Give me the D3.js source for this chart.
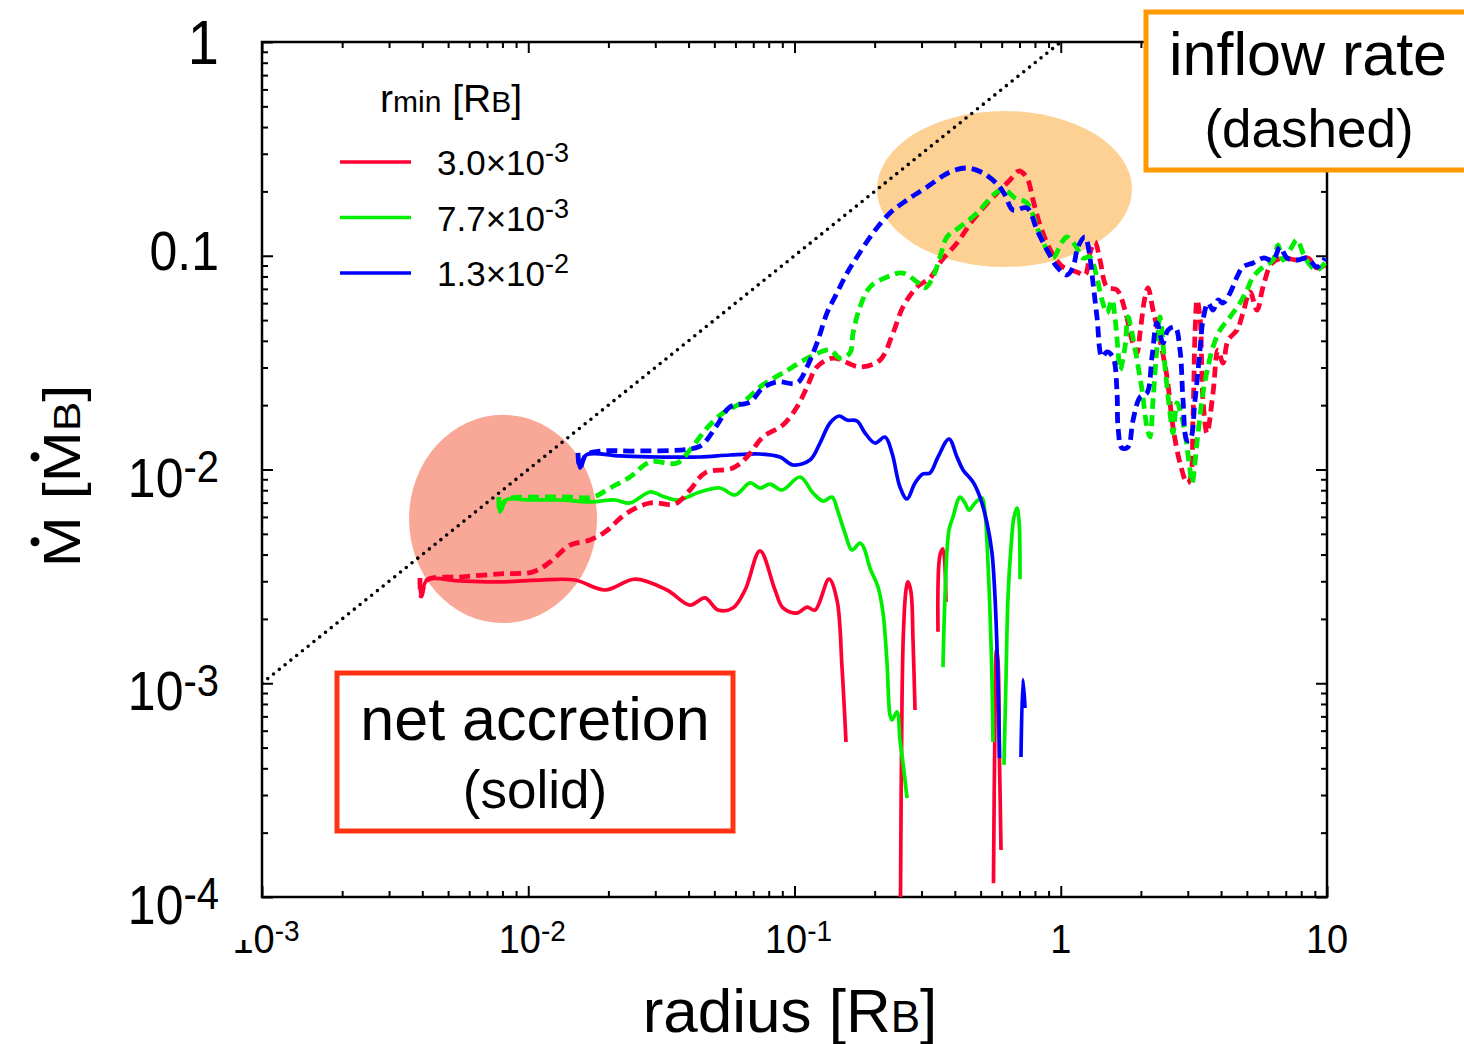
<!DOCTYPE html>
<html>
<head>
<meta charset="utf-8">
<script src="https://cdn.jsdelivr.net/npm/d3@7"></script>
<style>
  body { margin: 0; background: #fff; }
  svg { display: block; }
  text { font-family: "Liberation Sans", Arial, Helvetica, sans-serif; fill: #000; }
</style>
</head>
<body>
<svg id="chart" width="1464" height="1044"></svg>
<script>
// ---------------------------------------------------------------
// Mass accretion rate vs. radius for three inner-boundary radii.
// Each series: [radius in R_B, Mdot in Mdot_B]
// Net accretion (solid) is broken where it turns negative.
// ---------------------------------------------------------------
const seriesNames = ["3.0", "7.7", "1.3"];
const seriesExp = ["-3", "-3", "-2"];
const seriesColors = ["#ff0033", "#00ee00", "#0000ff"];

const netRed = [
  [[3.92e-3,3.11e-3],[3.96e-3,2.56e-3],[4.17e-3,3.04e-3],[5.54e-3,3.01e-3],[7.83e-3,2.98e-3],[1.107e-2,3.04e-3],[1.498e-2,3.04e-3],[1.942e-2,2.73e-3],[2.518e-2,3.07e-3],[3.32e-2,2.73e-3],[4.05e-2,2.32e-3],[4.61e-2,2.51e-3],[5.16e-2,2.20e-3],[5.87e-2,2.25e-3],[6.52e-2,2.73e-3],[7.42e-2,4.16e-3],[8.45e-2,2.73e-3],[9.05e-2,2.25e-3],[0.1022,2.13e-3],[0.1114,2.27e-3],[0.1194,2.20e-3],[0.1348,3.07e-3],[0.1444,2.45e-3],[0.1508,1.19e-3],[0.1561,5.31e-4]],
  [[0.250,9.0e-5],[0.2534,8.35e-4],[0.2567,1.77e-3],[0.2623,2.73e-3],[0.2669,2.98e-3],[0.2739,2.67e-3],[0.2787,1.59e-3],[0.2836,7.50e-4]],
  [[0.3459,1.74e-3],[0.352,3.98e-3],[0.3612,4.25e-3],[0.3707,2.40e-3]],
  [[0.5589,1.16e-4],[0.5663,6.73e-4],[0.5736,1.43e-3],[0.5811,1.28e-3],[0.5888,4.37e-4],[0.5966,1.66e-4]]
];

const netGreen = [
  [[7.76e-3,7.43e-3],[7.83e-3,6.33e-3],[8.25e-3,7.20e-3],[1.015e-2,7.20e-3],[1.316e-2,7.20e-3],[1.706e-2,7.05e-3],[2.118e-2,7.20e-3],[2.411e-2,6.97e-3],[2.867e-2,7.85e-3],[3.263e-2,7.43e-3],[3.651e-2,7.20e-3],[4.417e-2,7.85e-3],[5.25e-2,8.19e-3],[5.98e-2,7.60e-3],[6.81e-2,8.65e-3],[7.42e-2,8.19e-3],[8.09e-2,8.55e-3],[8.98e-2,8.02e-3],[0.1049,9.22e-3],[0.1174,7.76e-3],[0.128,7.12e-3],[0.1383,7.43e-3],[0.1457,6.33e-3],[0.1547,5.04e-3],[0.1644,4.20e-3],[0.1762,4.53e-3],[0.1824,4.29e-3],[0.1921,3.46e-3],[0.2059,2.82e-3],[0.2150,2.13e-3],[0.2226,1.24e-3],[0.2284,7.10e-4],[0.2324,6.73e-4],[0.2427,7.34e-4],[0.2490,5.43e-4],[0.2556,4.23e-4],[0.2646,2.90e-4]],
  [[0.3612,1.19e-3],[0.3675,2.53e-3],[0.3804,5.21e-3],[0.3938,5.99e-3],[0.4183,7.43e-3],[0.4368,6.97e-3],[0.4522,6.46e-3],[0.4763,6.97e-3],[0.5060,7.36e-3],[0.5193,6.26e-3],[0.5330,3.65e-3],[0.5423,2.13e-3],[0.5518,1.04e-3],[0.5566,5.31e-4]],
  [[0.6121,4.15e-4],[0.6228,1.04e-3],[0.6337,2.53e-3],[0.6503,4.34e-3],[0.6673,5.99e-3],[0.6849,6.60e-3],[0.6969,5.80e-3],[0.7029,3.07e-3]]
];

const netBlue = [
  [[1.537e-2,1.195e-2],[1.564e-2,1.016e-2],[1.648e-2,1.169e-2],[2.211e-2,1.157e-2],[3.125e-2,1.144e-2],[4.417e-2,1.144e-2],[5.72e-2,1.169e-2],[7.42e-2,1.182e-2],[8.82e-2,1.144e-2],[9.87e-2,1.050e-2],[0.1143,1.108e-2],[0.1247,1.330e-2],[0.1359,1.650e-2],[0.1470,1.779e-2],[0.1575,1.704e-2],[0.1717,1.686e-2],[0.1840,1.482e-2],[0.2006,1.330e-2],[0.2187,1.419e-2],[0.2324,1.195e-2],[0.2490,8.28e-3],[0.2646,7.28e-3],[0.2836,8.65e-3],[0.3038,9.53e-3],[0.3228,9.63e-3],[0.3459,1.144e-2],[0.3804,1.389e-2],[0.4076,1.144e-2],[0.4295,9.95e-3],[0.4682,8.74e-3],[0.4973,7.43e-3],[0.5284,5.62e-3],[0.5518,4.07e-3],[0.5663,2.53e-3],[0.5760,1.48e-3],[0.5850,7.26e-4],[0.5888,4.47e-4]],
  [[0.7090,4.52e-4],[0.7214,1.04e-3],[0.7340,7.66e-4]]
];

const inflowRed = [[3.92e-3,3.11e-3],[3.96e-3,2.56e-3],[4.17e-3,3.04e-3],[5.54e-3,3.14e-3],[7.83e-3,3.25e-3],[1.042e-2,3.32e-3],[1.207e-2,3.69e-3],[1.435e-2,4.43e-3],[1.706e-2,4.68e-3],[1.942e-2,5.10e-3],[2.349e-2,6.26e-3],[2.867e-2,6.97e-3],[3.558e-2,6.90e-3],[4.05e-2,8.02e-3],[4.61e-2,9.63e-3],[5.87e-2,1.016e-2],[6.63e-2,1.144e-2],[7.61e-2,1.419e-2],[9.05e-2,1.615e-2],[0.1022,1.96e-2],[0.1114,2.43e-2],[0.1215,3.02e-2],[0.1395,3.32e-2],[0.1762,3.02e-2],[0.2095,3.25e-2],[0.2344,4.35e-2],[0.2556,5.76e-2],[0.2884,7.14e-2],[0.3228,7.87e-2],[0.3581,9.55e-2],[0.4076,0.1147],[0.4682,0.1470],[0.5760,0.1966],[0.6450,0.2261],[0.6969,0.2491],[0.7468,0.2310],[0.7867,0.1823],[0.8359,0.1393],[0.8881,0.1147],[0.9515,0.0976],[1.020,0.0886],[1.151,0.0839],[1.233,0.0813],[1.288,0.1030],[1.345,0.1160],[1.404,0.0955],[1.492,0.0714],[1.627,0.0692],[1.743,0.0557],[1.852,0.0403],[1.934,0.0351],[1.985,0.0435],[2.072,0.0641],[2.127,0.0707],[2.221,0.0557],[2.360,0.0403],[2.506,0.0271],[2.640,0.0158],[2.805,0.01073],[2.980,0.00865],[3.058,0.00893],[3.139,0.0176],[3.194,0.0435],[3.250,0.0621],[3.334,0.0517],[3.422,0.0211],[3.542,0.0148],[3.731,0.0228],[3.896,0.0362],[4.069,0.0315],[4.249,0.0403],[4.592,0.0449],[4.836,0.0540],[5.137,0.0677],[5.460,0.0557],[5.750,0.0714],[6.215,0.0925],[6.834,0.0976],[7.716,0.0955],[8.484,0.0976],[9.170,0.0876],[9.83,0.0905]];

const inflowGreen = [[7.76e-3,7.43e-3],[7.83e-3,6.33e-3],[8.25e-3,7.20e-3],[1.107e-2,7.43e-3],[1.435e-2,7.43e-3],[1.751e-2,7.43e-3],[2.028e-2,8.19e-3],[2.411e-2,9.22e-3],[2.867e-2,1.084e-2],[3.62e-2,1.072e-2],[4.05e-2,1.234e-2],[4.69e-2,1.563e-2],[5.39e-2,1.838e-2],[6.41e-2,2.07e-2],[7.61e-2,2.49e-2],[9.05e-2,2.83e-2],[0.1143,3.36e-2],[0.1359,3.62e-2],[0.1482,3.32e-2],[0.1616,3.51e-2],[0.1659,4.35e-2],[0.1762,5.76e-2],[0.1921,7.14e-2],[0.2226,7.96e-2],[0.2556,8.30e-2],[0.2884,7.54e-2],[0.3090,7.07e-2],[0.3313,7.96e-2],[0.3520,0.0987],[0.3739,0.1224],[0.4183,0.1363],[0.4846,0.1585],[0.5760,0.1987],[0.6174,0.2031],[0.6733,0.1863],[0.7468,0.1765],[0.8215,0.1319],[0.8881,0.1064],[0.9352,0.0976],[1.011,0.1160],[1.056,0.1224],[1.131,0.1123],[1.212,0.0976],[1.288,0.0987],[1.368,0.0787],[1.429,0.0621],[1.492,0.0540],[1.558,0.0621],[1.599,0.0511],[1.641,0.0362],[1.670,0.0292],[1.743,0.0374],[1.789,0.0517],[1.852,0.0435],[1.934,0.0325],[2.020,0.0235],[2.108,0.0158],[2.164,0.0142],[2.221,0.0211],[2.299,0.0374],[2.360,0.0517],[2.463,0.0302],[2.572,0.0184],[2.640,0.0148],[2.733,0.0205],[2.805,0.0190],[2.929,0.0148],[3.058,0.00995],[3.112,0.00865],[3.278,0.0148],[3.422,0.0228],[3.573,0.0302],[3.731,0.0374],[3.964,0.0449],[4.323,0.0517],[4.711,0.0601],[5.007,0.0692],[5.274,0.0796],[5.750,0.0886],[6.269,0.0955],[6.546,0.1123],[6.834,0.0955],[7.261,0.1064],[7.716,0.1185],[8.126,0.1030],[8.635,0.0905],[9.170,0.0858],[9.83,0.0925]];

const inflowBlue = [[1.537e-2,1.195e-2],[1.564e-2,1.016e-2],[1.648e-2,1.169e-2],[1.86e-2,1.220e-2],[2.474e-2,1.220e-2],[4.05e-2,1.247e-2],[4.49e-2,1.302e-2],[5.12e-2,1.615e-2],[5.72e-2,1.96e-2],[6.81e-2,2.07e-2],[7.61e-2,2.41e-2],[8.60e-2,2.57e-2],[0.1022,2.54e-2],[0.1114,3.02e-2],[0.1215,3.91e-2],[0.1325,5.40e-2],[0.1444,6.70e-2],[0.1575,8.30e-2],[0.1717,0.0987],[0.1972,0.1278],[0.2284,0.1585],[0.2646,0.1823],[0.3147,0.2098],[0.3837,0.2465],[0.4445,0.2573],[0.5105,0.2439],[0.5811,0.2143],[0.6174,0.1924],[0.6616,0.1637],[0.7468,0.1673],[0.8143,0.1319],[0.8881,0.1064],[0.9681,0.0886],[1.056,0.0813],[1.112,0.0886],[1.161,0.1099],[1.233,0.1224],[1.288,0.0976],[1.322,0.0746],[1.368,0.0517],[1.429,0.0336],[1.492,0.0355],[1.571,0.0336],[1.627,0.0228],[1.641,0.0158],[1.698,0.0126],[1.789,0.01274],[1.868,0.0170],[1.985,0.0218],[2.108,0.0228],[2.201,0.0336],[2.299,0.0485],[2.421,0.0391],[2.528,0.0449],[2.686,0.0464],[2.805,0.0362],[2.879,0.0211],[2.980,0.0137],[3.058,0.0137],[3.194,0.0211],[3.334,0.0362],[3.422,0.0501],[3.573,0.0601],[3.731,0.0557],[3.896,0.0621],[4.069,0.0601],[4.323,0.0669],[4.592,0.0796],[4.836,0.0886],[5.274,0.0925],[5.750,0.0976],[6.269,0.0955],[6.660,0.1099],[7.076,0.0976],[7.716,0.0955],[8.412,0.0976],[9.170,0.0886],[9.83,0.0976]];

// Mdot = r reference (dotted)
const refR = [1e-3, 1];
const refM = [1e-3, 1];

// Highlighted regions: centre (r, Mdot) and half-widths in decades
const hiliteCenterR = [8.04e-3, 0.6148];
const hiliteCenterM = [5.87e-3, 0.2052];
const hiliteHalfDecR = [0.353, 0.479];
const hiliteHalfDecM = [0.487, 0.365];
const hiliteColors = ["#f9a797", "#fdd094"];

// Axis ticks
const xTickValues = [1e-3, 1e-2, 1e-1, 1, 10];
const xTickBase = ["10", "10", "10", "1", "10"];
const xTickExp = ["-3", "-2", "-1", "", ""];
const yTickValues = [1, 0.1, 1e-2, 1e-3, 1e-4];
const yTickBase = ["1", "0.1", "10", "10", "10"];
const yTickExp = ["", "", "-2", "-3", "-4"];

// ---------------------------------------------------------------
const svg = d3.select("#chart");
const L = 262, R = 1327, T = 42, B = 897;
const x = d3.scaleLog().domain([1e-3, 10]).range([L, R]);
const y = d3.scaleLog().domain([1e-4, 1]).range([B, T]);

svg.append("defs").append("clipPath").attr("id", "plotClip")
  .append("rect").attr("x", L).attr("y", T).attr("width", R - L).attr("height", B - T);

// highlight ellipses
const hl = svg.append("g").attr("clip-path", "url(#plotClip)");
hiliteCenterR.forEach((cr, i) => {
  const cx = x(cr), cy = y(hiliteCenterM[i]);
  hl.append("ellipse")
    .attr("cx", cx).attr("cy", cy)
    .attr("rx", x(cr * Math.pow(10, hiliteHalfDecR[i])) - cx)
    .attr("ry", cy - y(hiliteCenterM[i] * Math.pow(10, hiliteHalfDecM[i])))
    .attr("fill", hiliteColors[i]);
});

// ticks (inward, all four sides)
const majorX = xTickValues;
const minorX = x.ticks().filter(v => !majorX.some(m => Math.abs(m - v) / m < 1e-9));
const majorY = yTickValues;
const minorY = y.ticks().filter(v => !majorY.some(m => Math.abs(m - v) / m < 1e-9));

function axisG(axis, tx, ty) {
  const g = svg.append("g").attr("transform", `translate(${tx},${ty})`).call(axis);
  g.select(".domain").remove();
  g.selectAll("text").remove();
  g.selectAll("line").attr("stroke", "#000").attr("stroke-width", 2);
  return g;
}
axisG(d3.axisBottom(x).tickValues(majorX).tickSize(-11), 0, B);
axisG(d3.axisBottom(x).tickValues(minorX).tickSize(-6), 0, B);
axisG(d3.axisTop(x).tickValues(majorX).tickSize(-11), 0, T);
axisG(d3.axisTop(x).tickValues(minorX).tickSize(-6), 0, T);
axisG(d3.axisLeft(y).tickValues(majorY).tickSize(-11), L, 0);
axisG(d3.axisLeft(y).tickValues(minorY).tickSize(-6), L, 0);
axisG(d3.axisRight(y).tickValues(majorY).tickSize(-11), R, 0);
axisG(d3.axisRight(y).tickValues(minorY).tickSize(-6), R, 0);

// frame
svg.append("rect").attr("x", L).attr("y", T).attr("width", R - L).attr("height", B - T)
  .attr("fill", "none").attr("stroke", "#000").attr("stroke-width", 2.5);

// reference line Mdot = r
const plot = svg.append("g").attr("clip-path", "url(#plotClip)");
plot.append("path")
  .attr("d", d3.line().x(d => x(d[0])).y(d => y(d[1]))(refR.map((r, i) => [r, refM[i]])))
  .attr("fill", "none").attr("stroke", "#000").attr("stroke-width", 3.6)
  .attr("stroke-linecap", "round").attr("stroke-dasharray", "0 7.4");

const line = d3.line().x(d => x(d[0])).y(d => y(d[1])).curve(d3.curveCatmullRom.alpha(0.5));

const netSeries = [netRed, netGreen, netBlue];
const inflowSeries = [inflowRed, inflowGreen, inflowBlue];
netSeries.forEach((segs, i) => {
  segs.forEach(seg => {
    plot.append("path").attr("d", line(seg)).attr("fill", "none")
      .attr("stroke", seriesColors[i]).attr("stroke-width", 3.7).attr("stroke-linejoin", "round");
  });
});
inflowSeries.forEach((pts, i) => {
  plot.append("path").attr("d", line(pts)).attr("fill", "none")
    .attr("stroke", seriesColors[i]).attr("stroke-width", 4.8)
    .attr("stroke-dasharray", "11 6");
});

// text helper: base text with optional superscript
function labelWithExp(g, base, exp, size, expSize, rise, anchor) {
  const t = g.append("text").attr("text-anchor", anchor).attr("font-size", size);
  t.append("tspan").text(base);
  if (exp) t.append("tspan").attr("font-size", expSize).attr("dy", -rise).text(exp);
  return t;
}

// x tick labels
xTickValues.forEach((v, i) => {
  const g = svg.append("g").attr("transform", `translate(${x(v) + (xTickExp[i] ? 4 : 0)},953) scale(1,1.08)`);
  labelWithExp(g, xTickBase[i], xTickExp[i], 38, 28, 11, "middle");
});

// mask over the leftmost x label, under the y labels
svg.append("rect").attr("x", 190).attr("y", 899).attr("width", 58).attr("height", 41).attr("fill", "#fff");

// y tick labels
yTickValues.forEach((v, i) => {
  const big = yTickBase[i] === "1";
  const off = yTickExp[i] ? 27 : (big ? 22 : 14);
  const g = svg.append("g").attr("transform", `translate(219,${y(v) + off}) scale(1,1.12)`);
  labelWithExp(g, yTickBase[i], yTickExp[i], big ? 56 : 50, 40, 13, "end");
});

// axis titles
const xt = svg.append("text").attr("x", 790).attr("y", 1032).attr("text-anchor", "middle").attr("font-size", 62);
xt.append("tspan").text("radius [R");
xt.append("tspan").attr("font-size", 44).text("B");
xt.append("tspan").text("]");

// y title: "M [M_B]" with overdots drawn as filled circles
const ytG = svg.append("g").attr("transform", "translate(80,476) rotate(-90) scale(1.2,1)");
const yt = ytG.append("text").attr("text-anchor", "middle").attr("font-size", 51);
yt.append("tspan").text("M [M");
yt.append("tspan").attr("font-size", 37).text("B");
yt.append("tspan").text("]");
[0, 3].forEach(ci => {
  const ext = yt.node().getExtentOfChar(ci);
  ytG.append("ellipse")
    .attr("cx", ext.x + ext.width / 2).attr("cy", -45)
    .attr("rx", 3.8).attr("ry", 4.5).attr("fill", "#000");
});

// legend
const lgTitle = svg.append("text").attr("x", 380).attr("y", 112).attr("font-size", 39);
lgTitle.append("tspan").text("r");
lgTitle.append("tspan").attr("font-size", 30).text("min");
lgTitle.append("tspan").text(" [R");
lgTitle.append("tspan").attr("font-size", 30).text("B");
lgTitle.append("tspan").text("]");

const lgY = d3.scalePoint().domain(seriesNames).range([162, 273]);
seriesNames.forEach((nm, i) => {
  const yy = lgY(nm);
  svg.append("line").attr("x1", 340).attr("x2", 411).attr("y1", yy).attr("y2", yy)
    .attr("stroke", seriesColors[i]).attr("stroke-width", 3.5);
  const g = svg.append("g").attr("transform", `translate(437,${yy + 13})`);
  labelWithExp(g, nm + "×10", seriesExp[i], 35, 27, 13, "start");
});

// annotation boxes
svg.append("rect").attr("x", 337).attr("y", 673).attr("width", 396).attr("height", 158)
  .attr("fill", "#fff").attr("stroke", "#ff3311").attr("stroke-width", 5);
svg.append("text").attr("x", 535).attr("y", 740).attr("text-anchor", "middle").attr("font-size", 61).text("net accretion");
svg.append("text").attr("x", 535).attr("y", 808).attr("text-anchor", "middle").attr("font-size", 53).text("(solid)");

svg.append("rect").attr("x", 1146).attr("y", 12).attr("width", 340).attr("height", 158)
  .attr("fill", "#fff").attr("stroke", "#ff9900").attr("stroke-width", 5);
svg.append("text").attr("x", 1308).attr("y", 75).attr("text-anchor", "middle").attr("font-size", 61).text("inflow rate");
svg.append("text").attr("x", 1309).attr("y", 147).attr("text-anchor", "middle").attr("font-size", 53).text("(dashed)");
</script>
</body>
</html>
